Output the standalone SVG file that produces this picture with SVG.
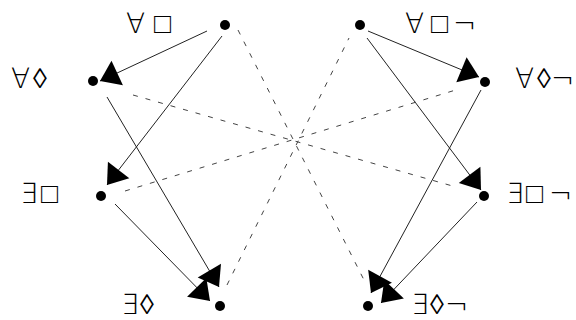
<svg xmlns="http://www.w3.org/2000/svg" width="576" height="320" viewBox="0 0 576 320">
  <style>
    .lbl { font-family: "DejaVu Sans", sans-serif; font-size: 28px; font-weight: 200; fill: #000; }
    .dot { fill: #000; }
    .edge { stroke: #222; stroke-width: 1; fill: none; }
    .dash { stroke: #444; stroke-width: 1; fill: none; stroke-dasharray: 5 8; }
  </style>
  <defs>
    <marker id="head" markerUnits="userSpaceOnUse" viewBox="-20 -14 21 28" markerWidth="21" markerHeight="28" refX="0" refY="0" orient="auto">
      <path d="M0,0 L-19,-13.5 L-19,13.5 Z" fill="#000"/>
    </marker>
  </defs>
  <rect width="576" height="320" fill="#fff"/>

  <g id="connectors">
    <!-- implications (solid, arrowed) -->
    <line class="edge" x1="207" y1="31" x2="100" y2="81" marker-end="url(#head)"/>
    <line class="edge" x1="222" y1="36" x2="107" y2="185" marker-end="url(#head)"/>
    <line class="edge" x1="107" y1="97" x2="219" y2="287" marker-end="url(#head)"/>
    <line class="edge" x1="115" y1="204" x2="210" y2="301" marker-end="url(#head)"/>
    <line class="edge" x1="368" y1="31" x2="479" y2="77" marker-end="url(#head)"/>
    <line class="edge" x1="367" y1="38" x2="481" y2="190" marker-end="url(#head)"/>
    <line class="edge" x1="481" y1="90" x2="371" y2="293" marker-end="url(#head)"/>
    <line class="edge" x1="477" y1="202" x2="381" y2="303" marker-end="url(#head)"/>
    <!-- contradictories (dashed) -->
    <line class="dash" x1="238" y1="30" x2="364" y2="280"/>
    <line class="dash" x1="133" y1="95" x2="456" y2="187"/>
    <line class="dash" x1="125" y1="191" x2="459" y2="89"/>
    <line class="dash" x1="227" y1="285" x2="349" y2="38"/>
  </g>

  <g id="all-box">
    <circle class="dot" cx="225" cy="25" r="5"/>
    <text class="lbl" y="33"><tspan x="126">∀</tspan><tspan x="154">□</tspan></text>
  </g>
  <g id="all-diamond">
    <circle class="dot" cx="93" cy="81" r="5"/>
    <text class="lbl" y="88"><tspan x="11">∀</tspan><tspan x="33">◊</tspan></text>
  </g>
  <g id="exists-box">
    <circle class="dot" cx="101" cy="196" r="5"/>
    <text class="lbl" y="203"><tspan x="20">∃</tspan><tspan x="41">□</tspan></text>
  </g>
  <g id="exists-diamond">
    <circle class="dot" cx="220" cy="306" r="5"/>
    <text class="lbl" y="314"><tspan x="121">∃</tspan><tspan x="140">◊</tspan></text>
  </g>
  <g id="all-box-not">
    <circle class="dot" cx="360" cy="25" r="5"/>
    <text class="lbl" y="33"><tspan x="405">∀</tspan><tspan x="431">□</tspan><tspan x="453">¬</tspan></text>
  </g>
  <g id="all-diamond-not">
    <circle class="dot" cx="485" cy="82" r="5"/>
    <text class="lbl" y="88"><tspan x="515">∀</tspan><tspan x="537">◊</tspan><tspan x="551">¬</tspan></text>
  </g>
  <g id="exists-box-not">
    <circle class="dot" cx="484" cy="196" r="5"/>
    <text class="lbl" y="203"><tspan x="506">∃</tspan><tspan x="526">□</tspan><tspan x="549">¬</tspan></text>
  </g>
  <g id="exists-diamond-not">
    <circle class="dot" cx="368" cy="306" r="5"/>
    <text class="lbl" y="314"><tspan x="411">∃</tspan><tspan x="430">◊</tspan><tspan x="445">¬</tspan></text>
  </g>
</svg>
